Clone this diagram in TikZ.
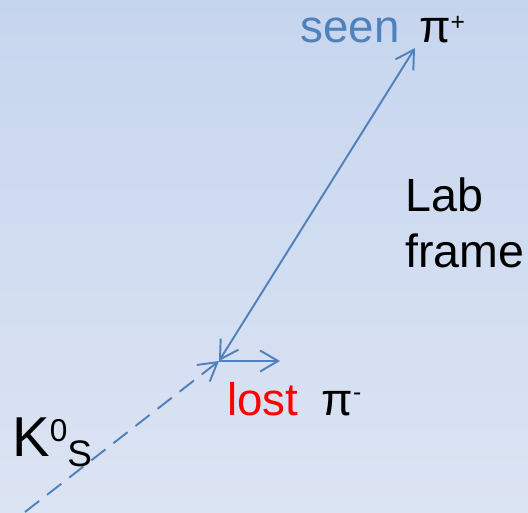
\documentclass[tikz,border=0pt]{standalone}
\usepackage{fontspec}
\setmainfont{Liberation Sans}
\usetikzlibrary{arrows.meta}
\definecolor{trackblue}{HTML}{4F81BD}
\definecolor{bgtop}{HTML}{C6D5EE}
\definecolor{bgbot}{HTML}{DCE4F3}
\tikzset{
  track/.style={trackblue,line width=1.1pt},
  tip/.tip={Straight Barb[length=0.36cm,width=0.42cm]}
}
\begin{document}
\begin{tikzpicture}
    \shade[top color=bgtop,bottom color=bgbot] (0,0) rectangle (10.56,10.24);
    \useasboundingbox (0,0) rectangle (10.56,10.24);
    \coordinate (kin) at (0.50,0);
    \coordinate (V) at (4.38,3.02);
    \coordinate (piplus) at (8.30,9.28);
    \coordinate (piminus) at (5.60,3.02);
    \draw[track,dash pattern=on 0.36cm off 0.2cm,-tip] (kin) -- (V);
    \draw[track,tip-tip] (V) -- (piplus);
    \draw[track,-tip] (V) -- (piminus);
    \node[anchor=base west,inner sep=0,font=\fontsize{26}{26}\selectfont] (seen) at (6.00,9.38) {\textcolor{trackblue}{seen}\hspace{4pt} π\raisebox{7pt}{\fontsize{14}{14}\selectfont +}};
    \node[anchor=base west,inner sep=0,font=\fontsize{26.5}{32}\selectfont,align=left] (lab) at (8.10,4.88) {Lab\\frame};
    \node[anchor=base west,inner sep=0,font=\fontsize{26}{26}\selectfont] (lost) at (4.54,1.94) {\textcolor{red}{lost}\hspace{6pt} π\raisebox{8pt}{\fontsize{14}{14}\selectfont -}};
    \node[anchor=base west,inner sep=0,font=\fontsize{32}{32}\selectfont] (kshort) at (0.24,1.12) {K\raisebox{8pt}{\fontsize{18}{18}\selectfont 0}\raisebox{-6pt}{\fontsize{21}{21}\selectfont S}};
  \end{tikzpicture}
\end{document}
